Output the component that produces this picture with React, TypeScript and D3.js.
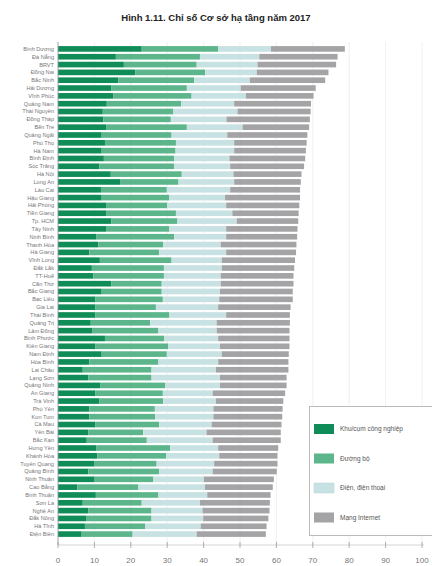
import * as d3 from "d3";

const provinces = [
  "Bình Dương", "Đà Nẵng", "BRVT", "Đồng Nai", "Bắc Ninh", "Hải Dương", "Vĩnh Phúc", "Quảng Nam",
  "Thái Nguyên", "Đồng Tháp", "Bến Tre", "Quảng Ngãi", "Phú Thọ", "Hà Nam", "Bình Định", "Sóc Trăng",
  "Hà Nội", "Long An", "Lào Cai", "Hậu Giang", "Hải Phòng", "Tiền Giang", "Tp. HCM", "Tây Ninh",
  "Ninh Bình", "Thanh Hóa", "Hà Giang", "Vĩnh Long", "Đắk Lắk", "TT-Huế", "Cần Thơ", "Bắc Giang",
  "Bạc Liêu", "Gia Lai", "Thái Bình", "Quảng Trị", "Lâm Đồng", "Bình Phước", "Kiên Giang", "Nam Định",
  "Hòa Bình", "Lai Châu", "Lạng Sơn", "Quảng Ninh", "An Giang", "Trà Vinh", "Phú Yên", "Kon Tum",
  "Cà Mau", "Yên Bái", "Bắc Kạn", "Hưng Yên", "Khánh Hòa", "Tuyên Quang", "Quảng Bình", "Ninh Thuận",
  "Cao Bằng", "Bình Thuận", "Sơn La", "Nghệ An", "Đắk Nông", "Hà Tĩnh", "Điện Biên",
];

// Khu/cụm công nghiệp
const industrial = [
  23.0, 15.9, 18.1, 21.2, 16.6, 14.6, 15.2, 13.4, 12.3, 12.5, 13.2, 12.0, 12.9, 12.0, 12.6, 11.4,
  14.5, 17.2, 11.8, 12.0, 13.2, 13.2, 14.7, 13.2, 10.6, 11.1, 8.6, 11.5, 9.3, 9.7, 14.6, 12.0,
  10.2, 10.2, 10.2, 9.0, 9.5, 12.9, 10.2, 12.0, 8.6, 6.8, 8.3, 11.7, 10.2, 11.4, 8.6, 8.6,
  10.2, 8.3, 7.9, 10.6, 10.8, 9.9, 8.3, 9.9, 5.3, 10.4, 6.8, 8.3, 7.7, 7.4, 6.5,
];
// Đường bộ
const roads = [
  21.0, 23.1, 20.0, 19.2, 20.8, 20.8, 21.5, 20.4, 19.4, 18.5, 22.2, 19.2, 19.5, 20.3, 19.3, 20.5,
  19.5, 15.9, 18.1, 18.6, 16.8, 19.2, 18.1, 17.4, 21.3, 17.8, 19.2, 19.7, 19.8, 19.4, 13.9, 16.5,
  18.6, 16.7, 20.4, 16.3, 18.1, 16.3, 20.1, 17.9, 19.0, 18.9, 17.4, 17.7, 18.6, 17.5, 18.0, 18.1,
  17.6, 15.1, 16.5, 20.2, 18.9, 17.2, 19.5, 16.3, 16.8, 17.2, 16.2, 17.4, 18.0, 16.5, 14.0,
];
// Điện, điện thoại
const power = [
  14.5, 16.3, 16.7, 14.2, 15.3, 14.8, 14.9, 14.6, 17.6, 15.3, 15.3, 15.3, 16.0, 16.1, 15.2, 15.4,
  14.2, 15.3, 17.4, 15.3, 16.2, 15.5, 16.3, 15.6, 14.3, 15.8, 18.4, 13.8, 15.9, 15.6, 16.2, 16.0,
  15.5, 17.1, 15.6, 18.3, 16.0, 14.8, 14.2, 15.1, 16.4, 17.7, 18.8, 15.1, 13.7, 14.5, 16.1, 16.0,
  14.4, 17.4, 18.1, 13.2, 14.6, 15.8, 14.7, 13.9, 18.3, 13.4, 16.0, 14.0, 14.2, 15.3, 17.6,
];
// Mạng Internet
const internet = [
  20.3, 21.5, 21.6, 19.7, 20.7, 20.6, 18.6, 21.1, 20.1, 22.9, 18.3, 22.0, 19.9, 19.7, 20.8, 20.3,
  18.7, 18.3, 19.2, 20.6, 20.1, 18.2, 16.9, 19.6, 19.5, 20.8, 19.2, 20.1, 19.9, 20.0, 20.0, 20.0,
  20.2, 19.9, 17.5, 20.1, 20.0, 19.6, 19.1, 18.4, 19.3, 19.9, 18.3, 18.3, 19.9, 18.5, 19.0, 18.9,
  19.2, 20.4, 18.7, 16.5, 16.0, 17.4, 17.6, 19.2, 18.6, 17.4, 19.2, 18.4, 17.9, 18.1, 19.0,
];

const seriesNames = ["Khu/cụm công nghiệp", "Đường bộ", "Điện, điện thoại", "Mạng Internet"];
const seriesColors = ["#0f8c58", "#5db68b", "#c8e2e3", "#a4a4a7"];
const xTicks = [0, 10, 20, 30, 40, 50, 60, 70, 80, 90, 100];

const W = 432;
const H = 566;
const font = "'Liberation Sans', Arial, sans-serif";

export default function App() {
  const x = d3.scaleLinear().domain([0, 100]).range([58, 422]);
  const y = d3.scaleBand<string>().domain(provinces).range([45, 538]).paddingInner(0.28).paddingOuter(0.14);

  const rows = provinces.map((p, i) => ({
    p,
    ind: industrial[i],
    road: roads[i],
    pow: power[i],
    net: internet[i],
  }));
  const stack = d3.stack<any>().keys(["ind", "road", "pow", "net"])(rows);

  return (
    <div style={{ position: "absolute", left: 0, top: 0 }}>
      <svg width={W} height={H} style={{ display: "block", background: "#fff" }} fontFamily={font}>
        <text x={W / 2} y={21} textAnchor="middle" fontSize={9.5} fontWeight="bold" fill="#222">
          Hình 1.11. Chỉ số Cơ sở hạ tầng năm 2017
        </text>

        {/* grid */}
        {xTicks.map((t) => (
          <line key={t} x1={x(t)} x2={x(t)} y1={42} y2={545} stroke="#ececec" strokeWidth={0.8} />
        ))}

        {/* bars */}
        {stack.map((s, si) => (
          <g key={si} fill={seriesColors[si]}>
            {s.map((d, i) => (
              <rect
                key={i}
                x={x(d[0])}
                width={x(d[1]) - x(d[0])}
                y={y(provinces[i])}
                height={y.bandwidth()}
              />
            ))}
          </g>
        ))}

        {/* y axis */}
        <line x1={58} x2={58} y1={42} y2={545} stroke="#999" strokeWidth={0.8} />
        {provinces.map((p) => (
          <text
            key={p}
            x={54}
            y={(y(p) || 0) + y.bandwidth() / 2}
            dy="0.35em"
            textAnchor="end"
            fontSize={5.6}
            fill="#777"
          >
            {p}
          </text>
        ))}

        {/* x axis */}
        <line x1={58} x2={424} y1={545} y2={545} stroke="#ccc" strokeWidth={0.8} />
        {xTicks.map((t) => (
          <g key={t}>
            <line x1={x(t)} x2={x(t)} y1={542} y2={548} stroke="#999" strokeWidth={0.8} />
            <text x={x(t)} y={563} textAnchor="middle" fontSize={8} fill="#777">
              {t}
            </text>
          </g>
        ))}

        {/* legend */}
        <rect x={309.5} y={406.5} width={124} height={129} fill="#fff" stroke="#bbb" strokeWidth={1} />
        {seriesNames.map((n, i) => (
          <g key={n} transform={`translate(314, ${424 + i * 29.5})`}>
            <rect width={20} height={10} fill={seriesColors[i]} stroke={i === 2 ? "#b5d3d6" : "none"} strokeWidth={0.5} />
            <text x={26} y={5} dy="0.35em" fontSize={6.5} fill="#555">
              {n}
            </text>
          </g>
        ))}
      </svg>
    </div>
  );
}
